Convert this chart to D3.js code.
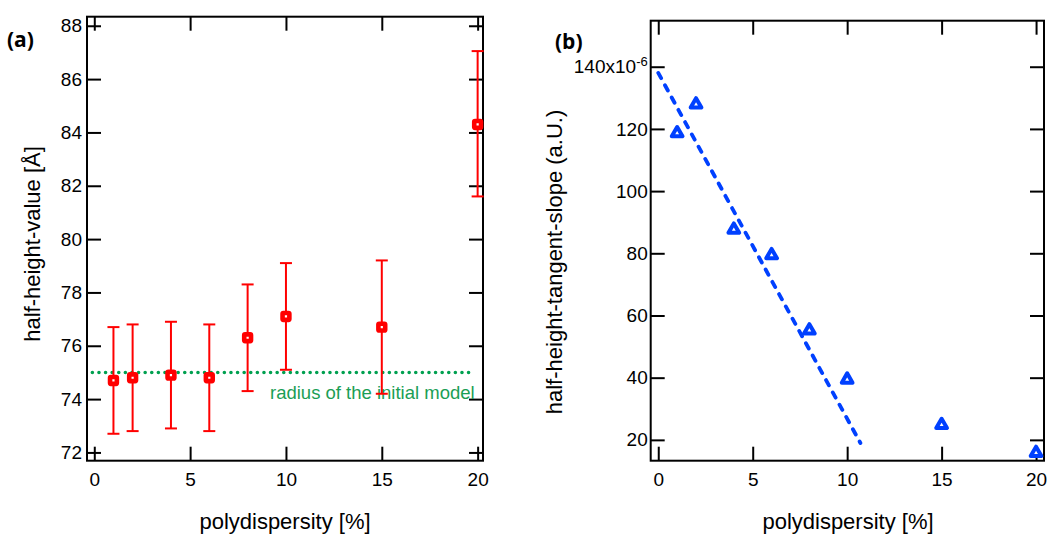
<!DOCTYPE html>
<meta charset="utf-8">
<script src="https://d3js.org/d3.v7.min.js"></script>
<style>
  body { margin: 0; background: #fff; }
  text { font-family: "Liberation Sans", Arial, sans-serif; }
</style>
<div id="chart"></div>
<script>
// ---- data, panel (a) ----
var polyA = [1, 2, 4, 6, 8, 10, 15, 20];
var halfValue = [74.7, 74.8, 74.9, 74.8, 76.3, 77.1, 76.7, 84.3];
var errLow = [72.7, 72.8, 72.9, 72.8, 74.3, 75.1, 74.2, 81.6];
var errHigh = [76.7, 76.8, 76.9, 76.8, 78.3, 79.1, 79.2, 87.05];
var initialRadius = 75;
var radiusSpan = [-0.1, 19.8];
var ticksA_y = [72, 74, 76, 78, 80, 82, 84, 86, 88];
var ticksX = [0, 5, 10, 15, 20];

// ---- data, panel (b) ----
var polyB = [1, 2, 4, 6, 8, 10, 15, 20];
var tangentSlope = [118.6, 127.9, 87.6, 79.4, 55.2, 39.4, 24.8, 15.8]; // x10^-6
var fitX = [0, 10.7];
var fitY = [138, 19];
var ticksB_y = [20, 40, 60, 80, 100, 120, 140];

var W = 1049, H = 534;
var svg = d3.select("#chart").append("svg")
  .attr("width", W).attr("height", H);

var tickLen = 14;

function frame(g, x, y) {
  g.append("rect")
    .attr("x", x.range()[0]).attr("y", y.range()[1])
    .attr("width", x.range()[1] - x.range()[0])
    .attr("height", y.range()[0] - y.range()[1])
    .attr("fill", "none").attr("stroke", "#000").attr("stroke-width", 2);
}

function axes(g, x, y, xt, yt, yFmt, gap) {
  var w = x.range()[1], top = y.range()[1], bot = y.range()[0], left = x.range()[0];
  var ax = [
    g.append("g").attr("transform", "translate(0," + bot + ")")
      .call(d3.axisBottom(x).tickValues(xt).tickSize(-tickLen).tickPadding(12)),
    g.append("g").attr("transform", "translate(0," + top + ")")
      .call(d3.axisTop(x).tickValues(xt).tickSize(-tickLen).tickFormat("")),
    g.append("g").attr("transform", "translate(" + left + ",0)")
      .call(d3.axisLeft(y).tickValues(yt).tickSize(-tickLen).tickPadding(gap).tickFormat(yFmt)),
    g.append("g").attr("transform", "translate(" + w + ",0)")
      .call(d3.axisRight(y).tickValues(yt).tickSize(-tickLen).tickFormat(""))
  ];
  ax.forEach(function (a) {
    a.select(".domain").remove();
    a.selectAll(".tick line").attr("stroke", "#000").attr("stroke-width", 2);
    a.selectAll("text").attr("font-size", 19).attr("fill", "#000")
      .style("font-family", "'Liberation Sans', Arial, sans-serif");
  });
  return ax;
}

// ================= panel (a) =================
var xA = d3.scaleLinear().domain([-0.38, 20.28]).range([87, 483]);
var yA = d3.scaleLinear().domain([71.69, 88.34]).range([460.7, 16.7]);
var gA = svg.append("g");

axes(gA, xA, yA, ticksX, ticksA_y, d3.format("d"), 5);
frame(gA, xA, yA);

// dotted reference line
gA.append("line")
  .attr("x1", xA(radiusSpan[0])).attr("x2", xA(radiusSpan[1]))
  .attr("y1", yA(initialRadius)).attr("y2", yA(initialRadius))
  .attr("stroke", "#00a050").attr("stroke-width", 3.6)
  .attr("stroke-linecap", "round").attr("stroke-dasharray", "0 6.6");

gA.append("text")
  .attr("x", 270).attr("y", yA(initialRadius) + 27)
  .attr("font-size", 18.5).attr("fill", "#1a9e55")
  .text("radius of the initial model");

// error bars
var eb = gA.selectAll(".eb").data(polyA).enter().append("g").attr("class", "eb");
eb.append("line")
  .attr("x1", function (d) { return xA(d); }).attr("x2", function (d) { return xA(d); })
  .attr("y1", function (d, i) { return yA(errLow[i]); })
  .attr("y2", function (d, i) { return yA(errHigh[i]); })
  .attr("stroke", "#ff0000").attr("stroke-width", 2);
[errLow, errHigh].forEach(function (arr) {
  eb.append("line")
    .attr("x1", function (d) { return xA(d) - 6; }).attr("x2", function (d) { return xA(d) + 6; })
    .attr("y1", function (d, i) { return yA(arr[i]); })
    .attr("y2", function (d, i) { return yA(arr[i]); })
    .attr("stroke", "#ff0000").attr("stroke-width", 2);
});
gA.selectAll(".sq").data(polyA).enter().append("rect")
  .attr("x", function (d) { return xA(d) - 3.4; })
  .attr("y", function (d, i) { return yA(halfValue[i]) - 3.4; })
  .attr("width", 6.8).attr("height", 6.8).attr("rx", 0.8)
  .attr("fill", "#fff").attr("stroke", "#ff0000").attr("stroke-width", 4.6);

gA.append("text").attr("transform", "translate(40,244) rotate(-90)")
  .attr("text-anchor", "middle").attr("font-size", 22).text("half-height-value [Å]");
gA.append("text").attr("x", 285).attr("y", 529)
  .attr("text-anchor", "middle").attr("font-size", 22).text("polydispersity [%]");
gA.append("text").attr("x", 7).attr("y", 47)
  .attr("font-size", 21).attr("font-weight", "bold")
  .style("font-family", "'Open Sans', sans-serif").text("(a)");

// ================= panel (b) =================
var xB = d3.scaleLinear().domain([-0.4, 20.42]).range([650.7, 1044]);
var yB = d3.scaleLinear().domain([13.3, 154.8]).range([460.7, 20.7]);
var gB = svg.append("g");

var axB = axes(gB, xB, yB, ticksX, ticksB_y, d3.format("d"), 3);
frame(gB, xB, yB);
// 140x10^-6 label
axB[2].selectAll(".tick text").filter(function (d) { return d === 140; })
  .text(null)
  .call(function (t) {
    t.append("tspan").text("140x10");
    t.append("tspan").attr("dy", "-0.55em").attr("font-size", 13).text("-6");
  });

gB.append("line")
  .attr("x1", xB(fitX[0])).attr("y1", yB(fitY[0]))
  .attr("x2", xB(fitX[1])).attr("y2", yB(fitY[1]))
  .attr("stroke", "#0040ff").attr("stroke-width", 3.8)
  .attr("stroke-linecap", "round").attr("stroke-dasharray", "6 8");

var tri = d3.symbol().type(d3.symbolTriangle).size(50);
gB.selectAll(".tri").data(polyB).enter().append("path")
  .attr("d", tri)
  .attr("transform", function (d, i) { return "translate(" + xB(d) + "," + yB(tangentSlope[i]) + ")"; })
  .attr("fill", "#fff").attr("stroke", "#0040ff").attr("stroke-width", 4)
  .attr("stroke-linejoin", "round");

gB.append("text").attr("transform", "translate(562,262) rotate(-90)")
  .attr("text-anchor", "middle").attr("font-size", 22).text("half-height-tangent-slope (a.U.)");
gB.append("text").attr("x", 848).attr("y", 529)
  .attr("text-anchor", "middle").attr("font-size", 22).text("polydispersity [%]");
gB.append("text").attr("x", 555).attr("y", 49)
  .attr("font-size", 21).attr("font-weight", "bold")
  .style("font-family", "'Open Sans', sans-serif").text("(b)");
</script>
